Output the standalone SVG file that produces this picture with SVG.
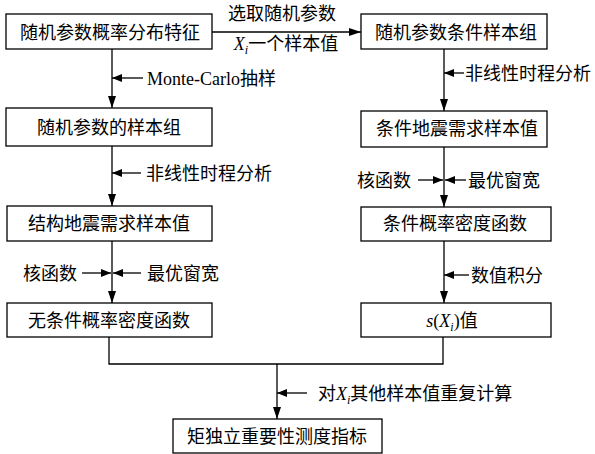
<svg xmlns="http://www.w3.org/2000/svg" width="595" height="454" viewBox="0 0 595 454">
<style>
.box{fill:#fff;stroke:#000;stroke-width:1.3}
.ln{fill:none;stroke:#000;stroke-width:1.3}
text{font-family:"Liberation Serif","Noto Sans CJK SC",serif;font-size:18px;fill:#000}
.c{text-anchor:middle}
.it{font-style:italic}
.sub{font-style:italic;font-size:12px}
</style>
<defs>
<marker id="ah" markerWidth="12" markerHeight="8" refX="12" refY="4" orient="auto" markerUnits="userSpaceOnUse">
<path d="M0,0 L12,4 L0,8 Z" fill="#000"/>
</marker>
<marker id="as" markerWidth="10" markerHeight="8" refX="10" refY="4" orient="auto" markerUnits="userSpaceOnUse">
<path d="M0,0 L10,4 L0,8 Z" fill="#000"/>
</marker>
</defs>

<g id="connectors">
<line class="ln" x1="212" y1="32" x2="361" y2="32" marker-end="url(#ah)"/>
<line class="ln" x1="112" y1="49" x2="112" y2="108" marker-end="url(#ah)"/>
<line class="ln" x1="112" y1="146" x2="112" y2="206" marker-end="url(#ah)"/>
<line class="ln" x1="112" y1="241" x2="112" y2="303" marker-end="url(#ah)"/>
<line class="ln" x1="444" y1="49" x2="444" y2="111" marker-end="url(#ah)"/>
<line class="ln" x1="444" y1="147" x2="444" y2="207" marker-end="url(#ah)"/>
<line class="ln" x1="444" y1="241" x2="444" y2="303" marker-end="url(#ah)"/>
<polyline class="ln" points="109,337 109,364 443,364 443,337"/>
<line class="ln" x1="277" y1="364" x2="277" y2="419" marker-end="url(#ah)"/>
<!-- label pointer arrows -->
<line class="ln" x1="143" y1="78" x2="112" y2="78" marker-end="url(#as)"/>
<line class="ln" x1="141" y1="173" x2="112" y2="173" marker-end="url(#as)"/>
<line class="ln" x1="82" y1="273" x2="111" y2="273" marker-end="url(#as)"/>
<line class="ln" x1="141" y1="273" x2="113" y2="273" marker-end="url(#as)"/>
<line class="ln" x1="464" y1="73" x2="444" y2="73" marker-end="url(#as)"/>
<line class="ln" x1="418" y1="180" x2="443" y2="180" marker-end="url(#as)"/>
<line class="ln" x1="466" y1="180" x2="445" y2="180" marker-end="url(#as)"/>
<line class="ln" x1="469" y1="275" x2="444" y2="275" marker-end="url(#as)"/>
<line class="ln" x1="307" y1="393" x2="277" y2="393" marker-end="url(#as)"/>
</g>

<g id="labels">
<text class="c" x="282" y="20">选取随机参数</text>
<text class="c" x="286" y="50"><tspan class="it">X</tspan><tspan class="sub" dy="4">i</tspan><tspan dy="-4">一个样本值</tspan></text>
<text x="147" y="85">Monte-Carlo抽样</text>
<text x="146" y="180">非线性时程分析</text>
<text x="23" y="280">核函数</text>
<text x="147" y="280">最优窗宽</text>
<text x="465" y="80">非线性时程分析</text>
<text x="357" y="187">核函数</text>
<text x="468" y="187">最优窗宽</text>
<text x="471" y="282">数值积分</text>
<text x="318" y="400">对<tspan class="it">X</tspan><tspan class="sub" dy="4">i</tspan><tspan dy="-4">其他样本值重复计算</tspan></text>
</g>

<g id="n1"><rect class="box" x="6" y="14" width="206" height="35"/><text class="c" x="110" y="39">随机参数概率分布特征</text></g>
<g id="n2"><rect class="box" x="6" y="108" width="206" height="38"/><text class="c" x="109" y="134">随机参数的样本组</text></g>
<g id="n3"><rect class="box" x="7" y="206" width="205" height="35"/><text class="c" x="109" y="230">结构地震需求样本值</text></g>
<g id="n4"><rect class="box" x="7" y="303" width="205" height="34"/><text class="c" x="109" y="327">无条件概率密度函数</text></g>
<g id="n5"><rect class="box" x="361" y="14" width="186" height="35"/><text class="c" x="456" y="39">随机参数条件样本组</text></g>
<g id="n6"><rect class="box" x="361" y="111" width="186" height="36"/><text class="c" x="457" y="135">条件地震需求样本值</text></g>
<g id="n7"><rect class="box" x="361" y="207" width="190" height="34"/><text class="c" x="455" y="230">条件概率密度函数</text></g>
<g id="n8"><rect class="box" x="361" y="303" width="190" height="34"/><text class="c" x="452" y="327"><tspan class="it">s</tspan>(<tspan class="it">X</tspan><tspan class="sub" dy="4">i</tspan><tspan dy="-4">)值</tspan></text></g>
<g id="n9"><rect class="box" x="173" y="419" width="209" height="34"/><text class="c" x="277" y="443">矩独立重要性测度指标</text></g>
</svg>
